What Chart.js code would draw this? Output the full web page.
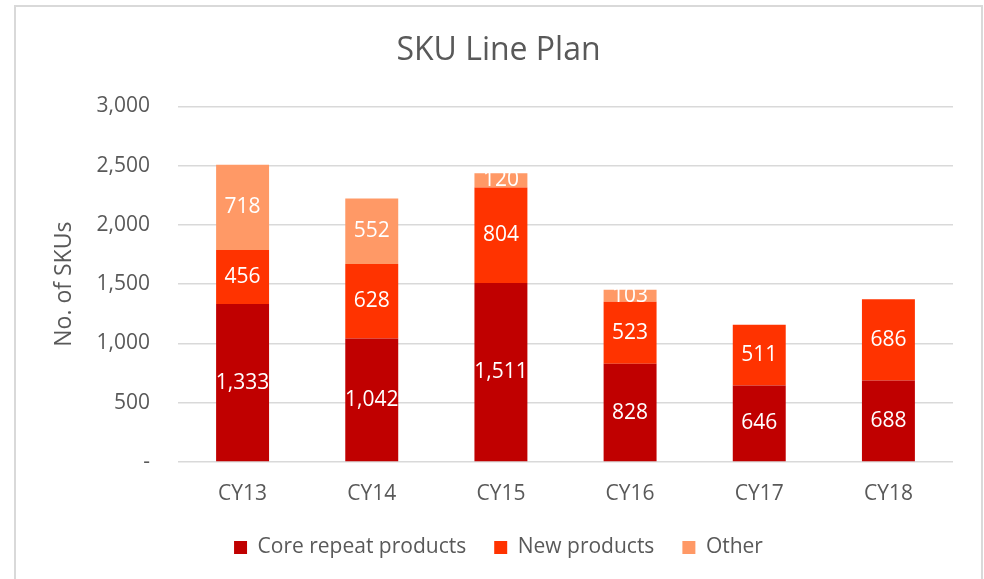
<!DOCTYPE html>
<html>
<head>
<meta charset="utf-8">
<script src="https://cdn.jsdelivr.net/npm/chart.js@4"></script>
<style>
  html, body { margin: 0; padding: 0; background: #fff; }
  #wrap { width: 984px; height: 579px; }
</style>
</head>
<body>
<div id="wrap"><canvas id="myChart" width="984" height="579"></canvas></div>
<script>
const years = ["CY13", "CY14", "CY15", "CY16", "CY17", "CY18"];
const coreRepeat = [1333, 1042, 1511, 828, 646, 688];
const newProducts = [456, 628, 804, 523, 511, 686];
const other = [718, 552, 120, 103, null, null];
const yTicks = [0, 500, 1000, 1500, 2000, 2500, 3000];

const textGrey = "#595959";
const fontFamily = "'Open Sans', sans-serif";

// light grey frame round the chart, like the spreadsheet export
const framePlugin = {
  id: "frame",
  beforeDraw(chart) {
    const ctx = chart.ctx;
    ctx.save();
    ctx.fillStyle = "#fff";
    ctx.fillRect(0, 0, chart.width, chart.height);
    ctx.strokeStyle = "#d9d9d9";
    ctx.lineWidth = 2;
    ctx.strokeRect(15, 6, 967, 600);
    ctx.restore();
  }
};

// white value labels in the middle of each segment
const segmentLabels = {
  id: "segmentLabels",
  afterDatasetsDraw(chart) {
    const ctx = chart.ctx;
    ctx.save();
    ctx.fillStyle = "#fff";
    ctx.font = "21px " + fontFamily;
    ctx.textAlign = "center";
    ctx.textBaseline = "middle";
    chart.data.datasets.forEach((ds, i) => {
      chart.getDatasetMeta(i).data.forEach((bar, j) => {
        const v = ds.data[j];
        if (v == null) return;
        ctx.fillText(v.toLocaleString("en-US"), bar.x, (bar.y + bar.base) / 2);
      });
    });
    ctx.restore();
  }
};

new Chart("myChart", {
  type: "bar",
  data: {
    labels: years,
    datasets: [
      { label: "Core repeat products", data: coreRepeat, backgroundColor: "#C00000" },
      { label: "New products", data: newProducts, backgroundColor: "#FF3300" },
      { label: "Other", data: other, backgroundColor: "#FF9966" }
    ]
  },
  options: {
    responsive: false,
    animation: false,
    categoryPercentage: 1,
    barPercentage: 0.41,
    layout: { padding: { left: 44, right: 31, top: 0, bottom: 11 } },
    plugins: {
      title: {
        display: true,
        text: "SKU Line Plan",
        color: textGrey,
        font: { family: fontFamily, size: 32, weight: "normal" },
        padding: { top: 32, bottom: 36 }
      },
      legend: {
        position: "bottom",
        labels: {
          color: textGrey,
          font: { family: fontFamily, size: 21 },
          boxWidth: 13,
          boxHeight: 13,
          padding: 28
        }
      },
      tooltip: { enabled: false }
    },
    scales: {
      x: {
        stacked: true,
        grid: { display: false },
        border: { display: false },
        ticks: { color: textGrey, font: { family: fontFamily, size: 21 }, padding: 11 },
        afterFit(scale) { scale.height = 47; }
      },
      y: {
        stacked: true,
        min: 0,
        max: 3000,
        afterBuildTicks(scale) { scale.ticks = yTicks.map(v => ({ value: v })); },
        grid: { color: "#d9d9d9", lineWidth: 1.5, drawTicks: false },
        border: { display: false },
        ticks: {
          color: textGrey,
          font: { family: fontFamily, size: 21 },
          padding: 28,
          callback: v => (v === 0 ? "-" : v.toLocaleString("en-US"))
        },
        title: {
          display: true,
          text: "No. of SKUs",
          color: textGrey,
          font: { family: fontFamily, size: 23 },
          padding: { top: 7, bottom: 0 }
        },
        afterFit(scale) { scale.width = 134; }
      }
    }
  },
  plugins: [framePlugin, segmentLabels]
});
</script>
</body>
</html>
